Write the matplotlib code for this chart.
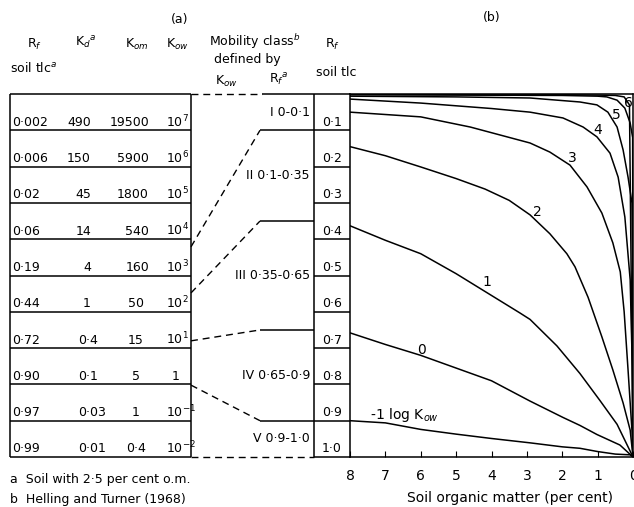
import matplotlib.pyplot as plt

# ---- (a) table, one row per Kow decade ----
rf_tlc = ['0·002', '0·006', '0·02', '0·06', '0·19', '0·44', '0·72', '0·90', '0·97', '0·99']
kd = ['490', '150', '45', '14', '4', '1', '0·4', '0·1', '0·03', '0·01']
kom = ['19500', '5900', '1800', '540', '160', '50', '15', '5', '1', '0·4']
kow = [r'$10^{7}$', r'$10^{6}$', r'$10^{5}$', r'$10^{4}$', r'$10^{3}$',
       r'$10^{2}$', r'$10^{1}$', '1', r'$10^{-1}$', r'$10^{-2}$']
rf_scale = ['0·1', '0·2', '0·3', '0·4', '0·5', '0·6', '0·7', '0·8', '0·9', '1·0']

class_names = ['I 0-0·1', 'II 0·1-0·35', 'III 0·35-0·65', 'IV 0·65-0·9', 'V 0·9-1·0']
class_edges = [0.0, 0.1, 0.35, 0.65, 0.9, 1.0]
# where each class edge meets the Kow column (in table rows)
link_rows = [4.21, 5.48, 6.80, 8.02]

# ---- (b) Rf against soil organic matter, one curve per log Kow ----
om_m1 = [8, 7, 6, 5, 4, 2.91, 2, 1.5, 1, 0.5, 0.08, 0]
rf_m1 = [0.90, 0.906, 0.924, 0.937, 0.949, 0.961, 0.972, 0.976, 0.985, 0.992, 0.994, 1.0]
om_0 = [8, 7, 6, 5, 4, 2.91, 1.98, 1.5, 1.02, 0.37, 0]
rf_0 = [0.658, 0.69, 0.72, 0.755, 0.79, 0.846, 0.891, 0.913, 0.938, 0.967, 1.0]
om_1 = [8, 7, 6, 5, 4, 3.2, 2.91, 2.15, 1.5, 0.93, 0.45, 0]
rf_1 = [0.363, 0.403, 0.44, 0.495, 0.555, 0.603, 0.621, 0.694, 0.77, 0.845, 0.91, 1.0]
om_2 = [8, 7, 6, 5, 4.18, 3.5, 2.91, 2.35, 1.87, 1.64, 1.27, 0.88, 0.57, 0.28, 0.08, 0]
rf_2 = [0.145, 0.17, 0.201, 0.233, 0.262, 0.293, 0.333, 0.385, 0.44, 0.476, 0.56,
        0.669, 0.76, 0.851, 0.926, 1.0]
om_3 = [8, 6, 4.6, 2.91, 2.35, 1.78, 1.3, 0.88, 0.57, 0.36, 0.25, 0.14, 0.03, 0]
rf_3 = [0.05, 0.063, 0.091, 0.135, 0.16, 0.196, 0.256, 0.328, 0.41, 0.49, 0.6,
        0.76, 0.926, 1.0]
om_4 = [8, 6, 4, 2.91, 1.98, 1.41, 1.02, 0.65, 0.42, 0.23, 0.08, 0.02, 0]
rf_4 = [0.014, 0.025, 0.04, 0.05, 0.066, 0.091, 0.118, 0.163, 0.229, 0.339, 0.512,
        0.75, 1.0]
om_5 = [8, 5, 2.91, 1.5, 1.02, 0.71, 0.45, 0.28, 0.14, 0.03, 0.01, 0]
rf_5 = [0.006, 0.008, 0.011, 0.022, 0.03, 0.05, 0.091, 0.154, 0.229, 0.30, 0.5, 1.0]
om_6 = [8, 2, 1, 0.74, 0.45, 0.23, 0.08, 0.01, 0]
rf_6 = [0.002, 0.004, 0.006, 0.008, 0.017, 0.039, 0.08, 0.12, 1.0]
om_7 = [8, 2, 1, 0.5, 0.25, 0.1, 0]
rf_7 = [0.001, 0.002, 0.003, 0.004, 0.008, 0.03, 1.0]

curve_labels = ['-1 log K$_{ow}$', '0', '1', '2', '3', '4', '5', '6']
label_om = [7.44, 5.97, 4.13, 2.71, 1.72, 0.99, 0.48, 0.14]
label_rf = [0.884, 0.705, 0.518, 0.325, 0.176, 0.099, 0.058, 0.025]

W, H = 634, 507
TOP, BOT = 94, 457
ROW = (BOT - TOP) / 10.0
FS = 9


def ypix(rf):
    return TOP + rf * (BOT - TOP)


def main():
    fig = plt.figure(figsize=(W / 100, H / 100), dpi=100)
    ax0 = fig.add_axes([0, 0, 1, 1])
    ax0.set_xlim(0, W)
    ax0.set_ylim(H, 0)
    ax0.axis('off')
    line = dict(color='black', lw=1.1, solid_capstyle='butt')
    dash = dict(color='black', lw=1.0, ls=(0, (5, 3.5)))

    # left table frame and row rules
    for i in range(11):
        y = TOP + i * ROW
        ax0.plot([10, 191], [y, y], **line)
    ax0.plot([10, 10], [TOP, BOT], **line)
    ax0.plot([191, 191], [TOP, BOT], **line)
    for i in range(10):
        yb = TOP + (i + 1) * ROW - 1.5
        ax0.text(12, yb, rf_tlc[i], fontsize=FS, ha='left', va='bottom')
        if '·' in kd[i]:
            ax0.text(78, yb, kd[i], fontsize=FS, ha='left', va='bottom')
        else:
            ax0.text(91, yb, kd[i], fontsize=FS, ha='right', va='bottom')
        if len(kom[i]) >= 3 and '·' not in kom[i]:
            ax0.text(149, yb, kom[i], fontsize=FS, ha='right', va='bottom')
        else:
            ax0.text(136, yb, kom[i], fontsize=FS, ha='center', va='bottom')
        if kow[i] == '1':
            ax0.text(176, yb, kow[i], fontsize=FS, ha='center', va='bottom')
        else:
            ax0.text(166, yb + 1, kow[i], fontsize=FS, ha='left', va='bottom')

    # Rf column
    ax0.plot([314, 314], [TOP, BOT], **line)
    for i in range(11):
        y = TOP + i * ROW
        ax0.plot([314, 350], [y, y], **line)
    for i in range(10):
        ax0.text(332, TOP + (i + 1) * ROW - 1.5, rf_scale[i], fontsize=FS,
                 ha='center', va='bottom')

    # mobility classes
    ax0.plot([191, 262], [TOP, TOP], **dash)
    ax0.plot([262, 314], [TOP, TOP], **line)
    ax0.plot([191, 314], [BOT, BOT], **dash)
    for edge, row in zip(class_edges[1:-1], link_rows):
        ax0.plot([260, 314], [ypix(edge), ypix(edge)], **line)
        ax0.plot([191, 260], [TOP + row * ROW, ypix(edge)], **dash)
    for name, lo, hi in zip(class_names, class_edges[:-1], class_edges[1:]):
        ax0.text(310, ypix((lo + hi) / 2), name, fontsize=FS, ha='right', va='center')

    # headings
    ax0.text(180, 19, '(a)', fontsize=FS, ha='center', va='center')
    ax0.text(492, 18, '(b)', fontsize=FS, ha='center', va='center')
    ax0.text(34, 44, 'R$_f$', fontsize=FS, ha='center', va='center')
    ax0.text(86, 43, 'K$_d$$^a$', fontsize=FS, ha='center', va='center')
    ax0.text(137, 44, 'K$_{om}$', fontsize=FS, ha='center', va='center')
    ax0.text(177, 44, 'K$_{ow}$', fontsize=FS, ha='center', va='center')
    ax0.text(255, 42, 'Mobility class$^b$', fontsize=FS, ha='center', va='center')
    ax0.text(332, 44, 'R$_f$', fontsize=FS, ha='center', va='center')
    ax0.text(247, 60, 'defined by', fontsize=FS, ha='center', va='center')
    ax0.text(10, 68, 'soil tlc$^a$', fontsize=FS, ha='left', va='center')
    ax0.text(226, 81, 'K$_{ow}$', fontsize=FS, ha='center', va='center')
    ax0.text(279, 80, 'R$_f$$^a$', fontsize=FS, ha='center', va='center')
    ax0.text(336, 72, 'soil tlc', fontsize=FS, ha='center', va='center')

    # footnotes
    ax0.text(10, 480, 'a  Soil with 2·5 per cent o.m.', fontsize=FS, va='center')
    ax0.text(10, 499, 'b  Helling and Turner (1968)', fontsize=FS, va='center')

    # (b) curves
    ax = fig.add_axes([350 / W, 1 - BOT / H, (633 - 350) / W, (BOT - TOP) / H])
    ax.patch.set_alpha(0)
    curves = [(om_m1, rf_m1), (om_0, rf_0), (om_1, rf_1), (om_2, rf_2), (om_3, rf_3),
              (om_4, rf_4), (om_5, rf_5), (om_6, rf_6), (om_7, rf_7)]
    for om, rf in curves:
        ax.plot(om, rf, color='black', lw=1.1)
    for lab, x, y in zip(curve_labels, label_om, label_rf):
        ha = 'left' if lab.startswith('-1') else 'center'
        ax.text(x, y, lab, fontsize=10, ha=ha, va='center')
    ax.set_xlim(8, 0)
    ax.set_ylim(1, 0)
    ax.set_xticks(range(8, -1, -1))
    ax.set_yticks([])
    ax.tick_params(axis='x', direction='in', length=4, pad=9, labelsize=10)
    for s in ax.spines.values():
        s.set_linewidth(1.1)
    ax.set_xlabel('Soil organic matter (per cent)', fontsize=10)
    ax.xaxis.set_label_coords(0.565, -0.094)

    fig.savefig('out.png', dpi=100)


if __name__ == '__main__':
    main()
